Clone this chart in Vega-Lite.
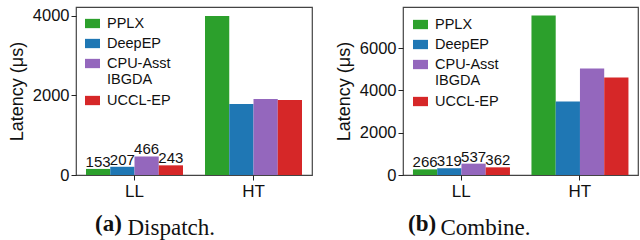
{
  "$schema": "https://vega.github.io/schema/vega-lite/v6.json",
  "padding": {"left": 7, "top": 6, "right": 0, "bottom": 0},
  "spacing": 21,
  "background": "white",
  "config": {
    "font": "Liberation Sans",
    "view": {"stroke": "#444", "strokeWidth": 1.2},
    "axis": {"labelFont": "Liberation Sans", "titleFont": "Liberation Sans", "labelColor": "#111", "titleColor": "#111", "tickColor": "#222", "domain": false, "grid": false, "labelFontSize": 16.5, "titleFontSize": 18, "titleFontWeight": "normal", "tickSize": 5},
    "legend": {"labelFont": "Liberation Sans", "labelFontSize": 14.5, "labelColor": "#111"},
    "title": {"font": "Liberation Serif", "fontSize": 23, "fontWeight": "bold", "color": "#111"}
  },
  "datasets": {
    "dispatch": [
      {"mode": "LL", "system": "PPLX", "latency": 153},
      {"mode": "LL", "system": "DeepEP", "latency": 207},
      {"mode": "LL", "system": "CPU-Asst IBGDA", "latency": 466},
      {"mode": "LL", "system": "UCCL-EP", "latency": 243},
      {"mode": "HT", "system": "PPLX", "latency": 4000},
      {"mode": "HT", "system": "DeepEP", "latency": 1786},
      {"mode": "HT", "system": "CPU-Asst IBGDA", "latency": 1912},
      {"mode": "HT", "system": "UCCL-EP", "latency": 1887}
    ],
    "combine": [
      {"mode": "LL", "system": "PPLX", "latency": 266},
      {"mode": "LL", "system": "DeepEP", "latency": 319},
      {"mode": "LL", "system": "CPU-Asst IBGDA", "latency": 537},
      {"mode": "LL", "system": "UCCL-EP", "latency": 362},
      {"mode": "HT", "system": "PPLX", "latency": 7541},
      {"mode": "HT", "system": "DeepEP", "latency": 3475},
      {"mode": "HT", "system": "CPU-Asst IBGDA", "latency": 5035},
      {"mode": "HT", "system": "UCCL-EP", "latency": 4610}
    ]
  },
  "resolve": {"legend": {"color": "independent"}, "scale": {"y": "independent"}},
  "hconcat": [
    {
      "width": 236, "height": 168,
      "data": {"name": "dispatch"},
      "title": {"text": "(a)", "orient": "bottom", "anchor": "start", "frame": "group", "dx": 19, "offset": 0, "dy": -8, "baseline": "alphabetic"},
      "encoding": {
        "x": {"field": "mode", "type": "nominal", "sort": ["LL", "HT"], "scale": {"paddingInner": 0.185, "paddingOuter": 0.084}, "axis": {"title": "Dispatch.", "titleFont": "Liberation Serif", "titleFontSize": 23, "titleX": 51, "titleY": 59, "titleAlign": "left", "titleBaseline": "alphabetic", "labelAngle": 0, "labelPadding": 3, "labelFontSize": 17}},
        "xOffset": {"field": "system", "type": "nominal", "sort": ["PPLX", "DeepEP", "CPU-Asst IBGDA", "UCCL-EP"], "scale": {"paddingInner": 0, "paddingOuter": 0}},
        "y": {"field": "latency", "type": "quantitative", "scale": {"domain": [0, 4226], "nice": false}, "axis": {"title": "Latency (μs)", "values": [0, 2000, 4000], "format": "d", "labelPadding": 2, "titlePadding": 6}}
      },
      "layer": [
        {
          "mark": {"type": "bar"},
          "encoding": {
            "color": {"field": "system", "type": "nominal", "sort": ["PPLX", "DeepEP", "CPU-Asst IBGDA", "UCCL-EP"],
              "scale": {"domain": ["PPLX", "DeepEP", "CPU-Asst IBGDA", "UCCL-EP"], "range": ["#2ca02c", "#1f77b4", "#9467bd", "#d62728"]},
              "legend": {"title": null, "orient": "top-left", "offset": 9, "symbolType": "M-1,-0.62H1V0.62H-1Z", "symbolSize": 225, "symbolStrokeWidth": 0, "labelOffset": 7, "rowPadding": 5,
                "labelExpr": "datum.label == 'CPU-Asst IBGDA' ? ['CPU-Asst', 'IBGDA'] : datum.label"}}
          }
        },
        {
          "transform": [{"filter": "datum.mode == 'LL'"}],
          "mark": {"type": "text", "baseline": "alphabetic", "dy": -2, "fontSize": 15, "color": "#111"},
          "encoding": {"text": {"field": "latency", "type": "quantitative"}}
        }
      ]
    },
    {
      "width": 235, "height": 168,
      "data": {"name": "combine"},
      "title": {"text": "(b)", "orient": "bottom", "anchor": "start", "frame": "group", "dx": 5, "offset": 0, "dy": -8, "baseline": "alphabetic"},
      "encoding": {
        "x": {"field": "mode", "type": "nominal", "sort": ["LL", "HT"], "scale": {"paddingInner": 0.185, "paddingOuter": 0.084}, "axis": {"title": "Combine.", "titleFont": "Liberation Serif", "titleFontSize": 23, "titleX": 37, "titleY": 59, "titleAlign": "left", "titleBaseline": "alphabetic", "labelAngle": 0, "labelPadding": 3, "labelFontSize": 17}},
        "xOffset": {"field": "system", "type": "nominal", "sort": ["PPLX", "DeepEP", "CPU-Asst IBGDA", "UCCL-EP"], "scale": {"paddingInner": 0, "paddingOuter": 0}},
        "y": {"field": "latency", "type": "quantitative", "scale": {"domain": [0, 7943], "nice": false}, "axis": {"title": "Latency (μs)", "values": [0, 2000, 4000, 6000], "format": "d", "labelPadding": 2, "titlePadding": 6}}
      },
      "layer": [
        {
          "mark": {"type": "bar"},
          "encoding": {
            "color": {"field": "system", "type": "nominal", "sort": ["PPLX", "DeepEP", "CPU-Asst IBGDA", "UCCL-EP"],
              "scale": {"domain": ["PPLX", "DeepEP", "CPU-Asst IBGDA", "UCCL-EP"], "range": ["#2ca02c", "#1f77b4", "#9467bd", "#d62728"]},
              "legend": {"title": null, "orient": "top-left", "offset": 10, "symbolType": "M-1,-0.62H1V0.62H-1Z", "symbolSize": 225, "symbolStrokeWidth": 0, "labelOffset": 7, "rowPadding": 5,
                "labelExpr": "datum.label == 'CPU-Asst IBGDA' ? ['CPU-Asst', 'IBGDA'] : datum.label"}}
          }
        },
        {
          "transform": [{"filter": "datum.mode == 'LL'"}],
          "mark": {"type": "text", "baseline": "alphabetic", "dy": -2, "fontSize": 15, "color": "#111"},
          "encoding": {"text": {"field": "latency", "type": "quantitative"}}
        }
      ]
    }
  ]
}
